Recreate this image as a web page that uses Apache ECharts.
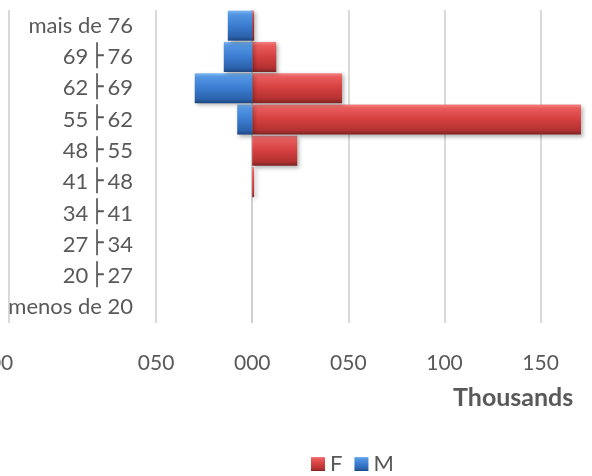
<!DOCTYPE html>
<html>
<head>
<meta charset="utf-8">
<script src="https://cdn.jsdelivr.net/npm/echarts@6/dist/echarts.min.js"></script>
<style>html,body{margin:0;padding:0;background:#fff}#c{width:592px;height:476px}</style>
</head>
<body>
<div id="c"></div>
<script>
var categories = ['menos de 20', '20 \u251C 27', '27 \u251C 34', '34 \u251C 41', '41 \u251C 48', '48 \u251C 55', '55 \u251C 62', '62 \u251C 69', '69 \u251C 76', 'mais de 76'];
var femaleValues = [0, 0, 0, 0, 1, 23.4, 180, 46.7, 12.5, 1];
var maleValues = [0, 0, 0, 0, 0, 0, -7.8, -29.9, -14.8, -12.7];
var xMin = -126.5;
var xMax = 171;

var FONT = 'Lato, "Open Sans", sans-serif';
var TXT = '#595959';

function grad(stops) {
  return new echarts.graphic.LinearGradient(0, 0, 0, 1, stops.map(function (s) { return { offset: s[0], color: s[1] }; }));
}
var redFill = grad([[0, '#f48282'], [0.12, '#e95c5c'], [0.5, '#d43f3f'], [0.86, '#b33131'], [1, '#7a2222']]);
var blueFill = grad([[0, '#80b8f2'], [0.12, '#5396e2'], [0.5, '#3b7cd1'], [0.86, '#2b62ab'], [1, '#1c4580']]);

var chart = echarts.init(document.getElementById('c'), null, { renderer: 'canvas' });
chart.setOption({
  animation: false,
  backgroundColor: '#ffffff',
  title: {
    text: 'Thousands', left: 448, top: 380,
    textStyle: { fontFamily: FONT, fontWeight: 'bold', fontSize: 25, color: TXT }
  },
  legend: {
    left: 306, top: 448, itemWidth: 14, itemHeight: 14, itemGap: 12,
    icon: 'rect',
    textStyle: { fontFamily: FONT, fontSize: 22, color: TXT, padding: [0, 0, 0, 0] },
    data: ['F', 'M']
  },
  grid: { left: 9, right: 11, top: 10, bottom: 153, containLabel: false, outerBoundsMode: 'none' },
  xAxis: {
    type: 'value', min: xMin, max: xMax, minInterval: 50, maxInterval: 50,
    axisLine: { show: false }, axisTick: { show: false },
    splitLine: {
      show: true,
      lineStyle: { width: 2, color: ['#d9d9d9', 'rgba(0,0,0,0)', '#d9d9d9', '#d0d0d0', '#d9d9d9', '#d9d9d9', '#d9d9d9', 'rgba(0,0,0,0)'] }
    },
    axisLabel: {
      margin: 30, fontFamily: FONT, fontSize: 21, color: TXT,
      showMinLabel: true, showMaxLabel: true, hideOverlap: false,
      formatter: function (v) {
        if (v === xMin) return '{l|100}';
        if (v === xMax || v === -100) return '';
        var a = Math.abs(Math.round(v));
        return ('000' + a).slice(-3);
      },
      rich: { l: { fontFamily: FONT, fontSize: 21, color: TXT, padding: [0, 28, 0, 0] } }
    }
  },
  yAxis: {
    type: 'category', data: categories,
    axisLine: { show: false }, axisTick: { show: false }, splitLine: { show: false },
    axisLabel: {
      margin: -124, fontFamily: FONT, fontSize: 22, color: TXT, align: 'right',
      formatter: function (v) { return v.replace(' \u251C ', '{s|\u251C}'); },
      rich: { s: { fontFamily: '"DejaVu Sans"', fontSize: 22, color: TXT, padding: [0, 4, 0, 2] } }
    }
  },
  series: [
    {
      name: 'F', type: 'bar', data: femaleValues, barGap: '-100%', barCategoryGap: '4%',
      itemStyle: { color: redFill, shadowBlur: 4, shadowColor: 'rgba(0,0,0,0.3)', shadowOffsetX: 2, shadowOffsetY: 2 }
    },
    {
      name: 'M', type: 'bar', data: maleValues, barGap: '-100%', barCategoryGap: '4%',
      itemStyle: { color: blueFill, shadowBlur: 4, shadowColor: 'rgba(0,0,0,0.3)', shadowOffsetX: 2, shadowOffsetY: 2 }
    }
  ]
});
</script>
</body>
</html>
